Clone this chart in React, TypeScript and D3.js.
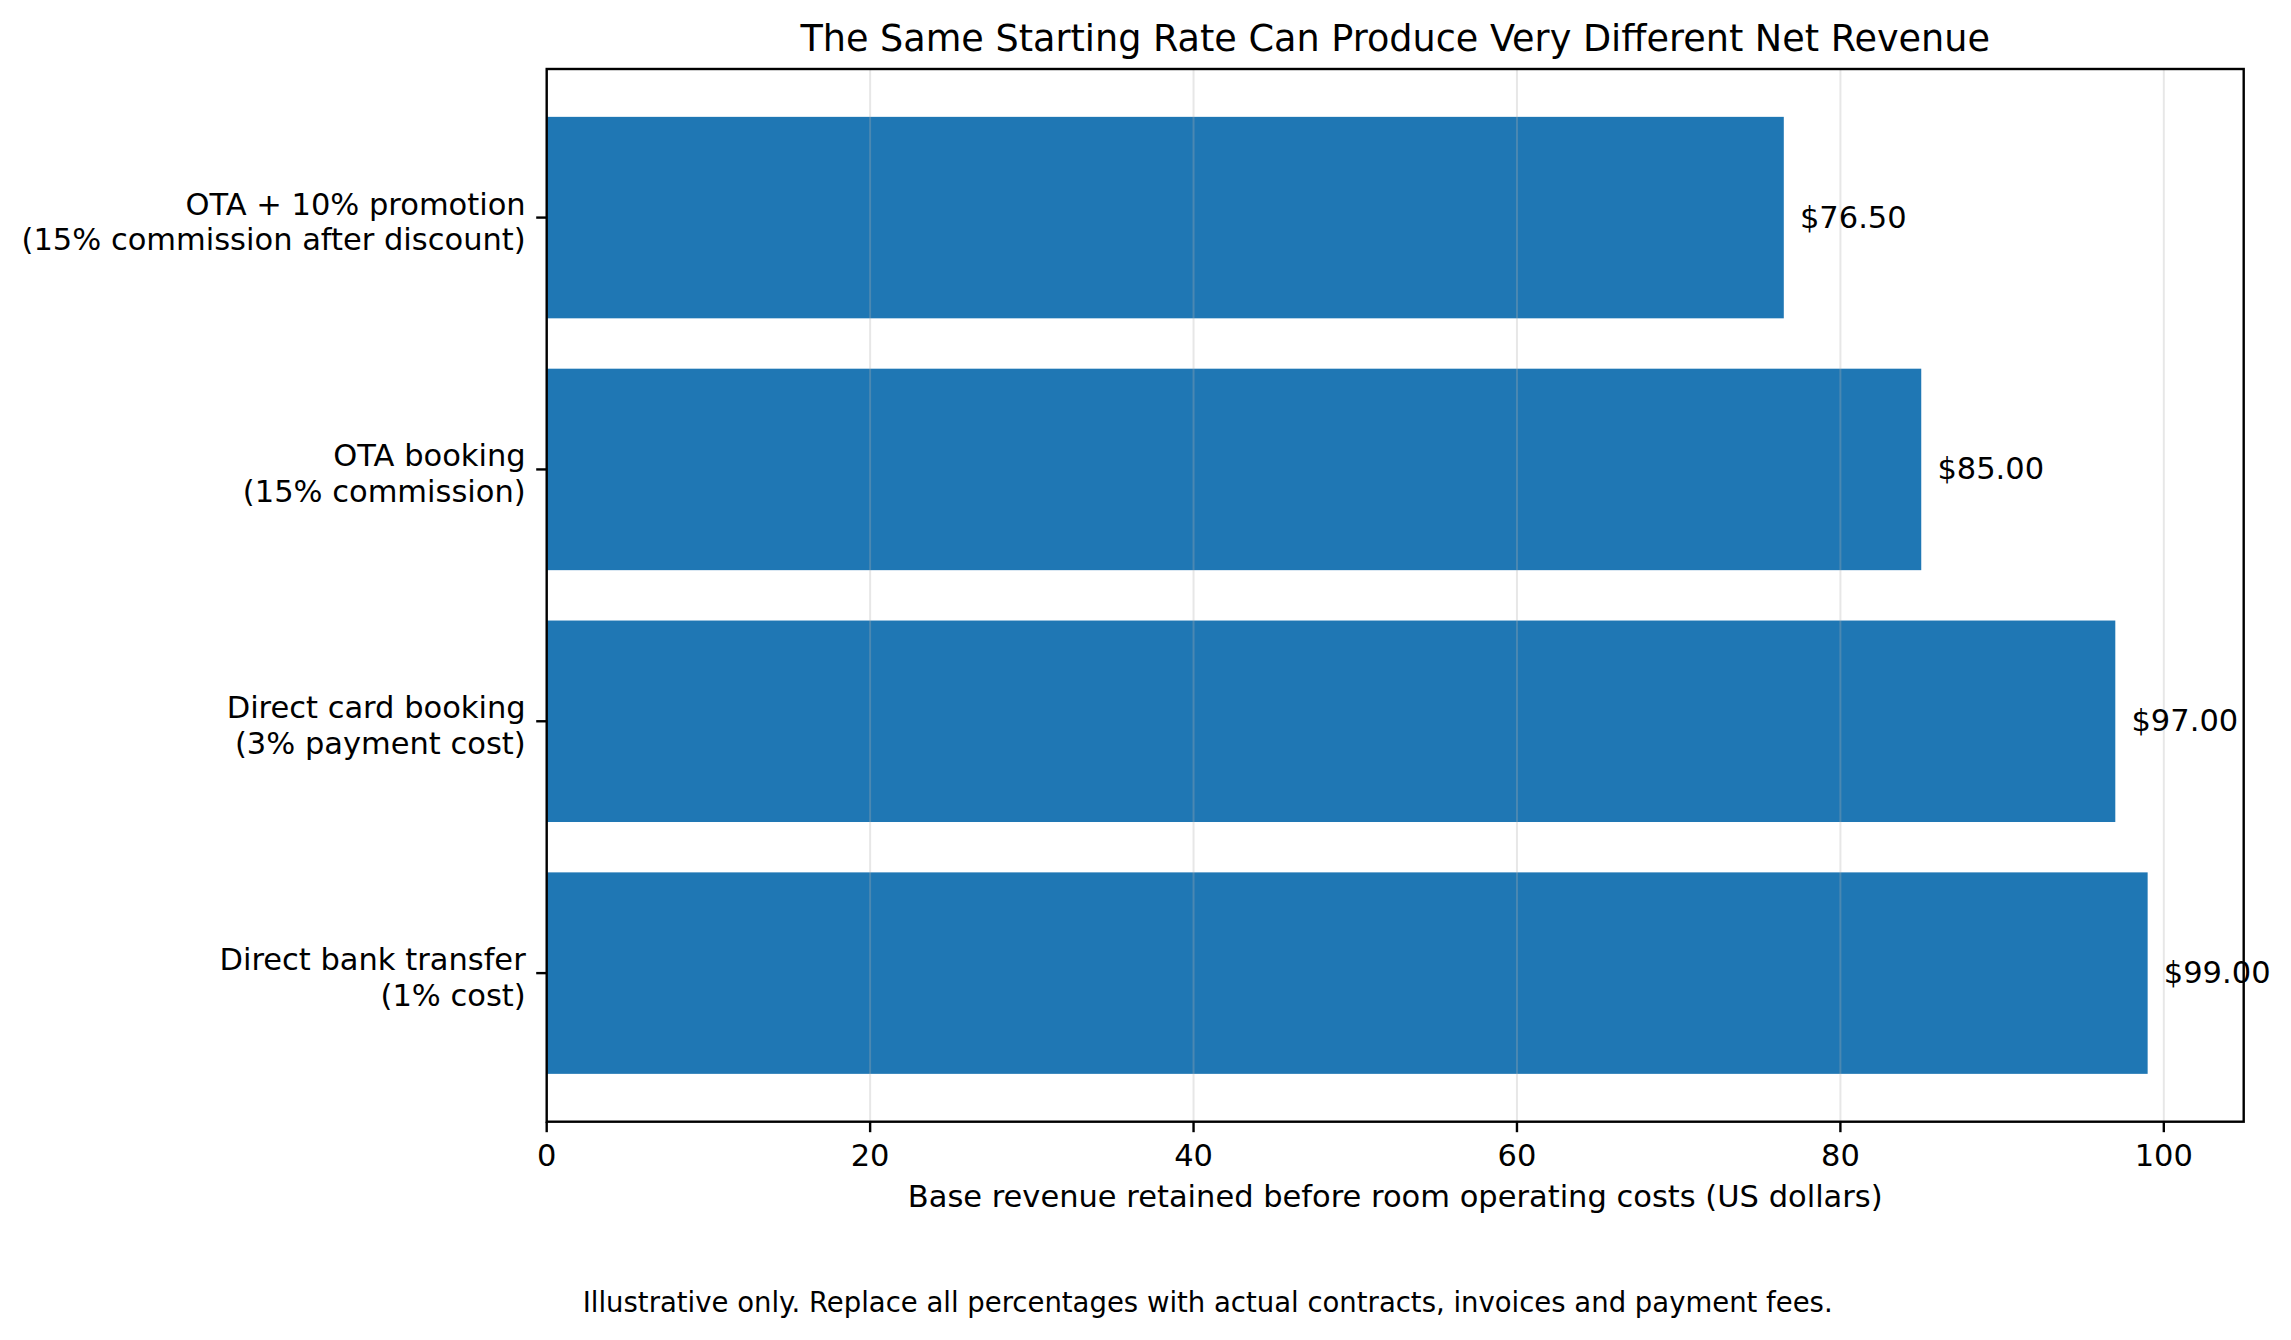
import React from "react";
import * as d3 from "d3";

const categories: string[][] = [
  ["Direct bank transfer", "(1% cost)"],
  ["Direct card booking", "(3% payment cost)"],
  ["OTA booking", "(15% commission)"],
  ["OTA + 10% promotion", "(15% commission after discount)"],
];
const values: number[] = [99.0, 97.0, 85.0, 76.5];
const xTicks: number[] = [0, 20, 40, 60, 80, 100];
const title = "The Same Starting Rate Can Produce Very Different Net Revenue";
const xLabel = "Base revenue retained before room operating costs (US dollars)";
const footnote =
  "Illustrative only. Replace all percentages with actual contracts, invoices and payment fees.";

const W = 2291;
const H = 1340;
const M = { left: 546.7, right: 2243.7, top: 69, bottom: 1121.7 };
const FONT = "'DejaVu Sans', sans-serif";
const BLUE = "#1f77b4";
const FS = 30.5;

export default function App() {
  const x = d3.scaleLinear().domain([0, 104.94]).range([M.left, M.right]);
  const y = d3.scaleLinear().domain([-0.59, 3.59]).range([M.bottom, M.top]);
  const barH = y(0) - y(0.8);
  const cx = (M.left + M.right) / 2;

  return (
    <svg
      width={W}
      height={H}
      style={{ position: "absolute", left: 0, top: 0, background: "#fff" }}
      fontFamily={FONT}
    >
      <rect x={0} y={0} width={W} height={H} fill="#fff" />
      {values.map((v, i) => (
        <rect
          key={"b" + i}
          x={x(0)}
          y={y(i) - barH / 2}
          width={x(v) - x(0)}
          height={barH}
          fill={BLUE}
        />
      ))}
      {xTicks.map((t) => (
        <line
          key={"g" + t}
          x1={x(t)}
          x2={x(t)}
          y1={M.top}
          y2={M.bottom}
          stroke="#b0b0b0"
          strokeOpacity={0.3}
          strokeWidth={2}
        />
      ))}
      {values.map((v, i) => (
        <text
          key={"l" + i}
          x={x(v + 1)}
          y={y(i) + 10}
          fontSize={FS}
          fill="#000"
        >
          {"$" + d3.format(".2f")(v)}
        </text>
      ))}
      <rect
        x={M.left}
        y={M.top}
        width={M.right - M.left}
        height={M.bottom - M.top}
        fill="none"
        stroke="#000"
        strokeWidth={2.4}
      />
      {xTicks.map((t) => (
        <g key={"xt" + t}>
          <line
            x1={x(t)}
            x2={x(t)}
            y1={M.bottom}
            y2={M.bottom + 10.5}
            stroke="#000"
            strokeWidth={2.4}
          />
          <text
            x={x(t)}
            y={M.bottom + 44.5}
            fontSize={FS}
            textAnchor="middle"
            fill="#000"
          >
            {t}
          </text>
        </g>
      ))}
      {categories.map((lines, i) => (
        <g key={"yt" + i}>
          <line
            x1={M.left - 10.5}
            x2={M.left}
            y1={y(i)}
            y2={y(i)}
            stroke="#000"
            strokeWidth={2.4}
          />
          {lines.map((ln, k) => (
            <text
              key={k}
              x={M.left - 21}
              y={y(i) - 3 + k * 35.5}
              fontSize={FS}
              textAnchor="end"
              fill="#000"
            >
              {ln}
            </text>
          ))}
        </g>
      ))}
      <text x={cx} y={50.7} fontSize={36.6} textAnchor="middle" fill="#000">
        {title}
      </text>
      <text x={cx} y={1207} fontSize={FS} textAnchor="middle" fill="#000">
        {xLabel}
      </text>
      <text x={1207.7} y={1311.7} fontSize={27.5} textAnchor="middle" fill="#000">
        {footnote}
      </text>
    </svg>
  );
}
